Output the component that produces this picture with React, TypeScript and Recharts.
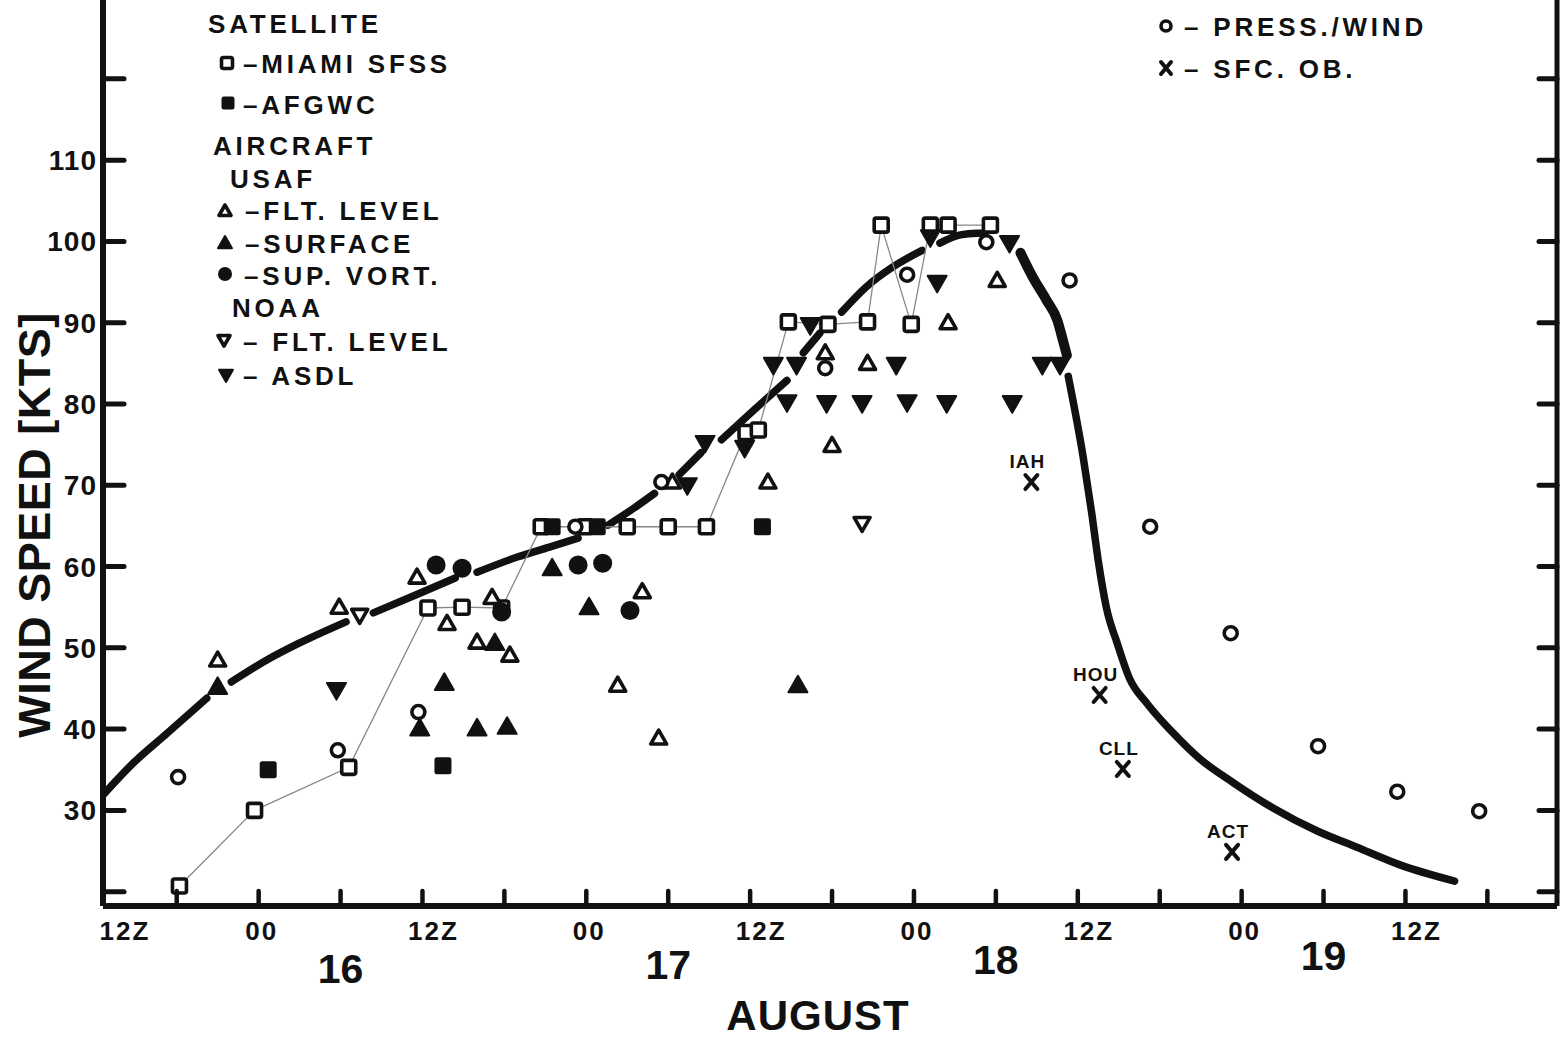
import React from 'react';
import { ComposedChart, Line, Scatter, XAxis, YAxis } from 'recharts';

// x: hours from 00Z 16 August, v: wind speed in knots
type Pt = { h: number; v: number | null };
type Ob = { h: number; v: number; name: string };

const miamiSfss: Pt[] = [
    { h: -5.8, v: 20.7 }, { h: -0.3, v: 30.0 }, { h: 6.6, v: 35.3 }, { h: 12.4, v: 54.9 },
    { h: 14.9, v: 55.0 }, { h: 17.8, v: 54.9 }, { h: 20.7, v: 64.9 }, { h: 23.9, v: 64.9 },
    { h: 27.0, v: 64.9 }, { h: 30.0, v: 64.9 }, { h: 32.8, v: 64.9 }, { h: 35.7, v: 76.5 },
    { h: 36.6, v: 76.8 }, { h: 38.8, v: 90.1 }, { h: 41.7, v: 89.8 }, { h: 44.6, v: 90.1 },
    { h: 45.6, v: 102.0 }, { h: 47.8, v: 89.8 }, { h: 49.2, v: 102.0 }, { h: 50.5, v: 102.0 },
    { h: 53.6, v: 102.0 }
];

const afgwc: Pt[] = [
    { h: 0.7, v: 35.0 }, { h: 13.5, v: 35.5 }, { h: 21.5, v: 64.9 }, { h: 24.8, v: 64.9 }, { h: 36.9, v: 64.9 }
];

const usafFltLevel: Pt[] = [
    { h: -3.0, v: 48.5 }, { h: 5.9, v: 55.0 }, { h: 11.6, v: 58.7 }, { h: 13.8, v: 53.0 },
    { h: 16.0, v: 50.7 }, { h: 17.1, v: 56.2 }, { h: 18.4, v: 49.1 }, { h: 26.3, v: 45.4 },
    { h: 28.1, v: 56.9 }, { h: 29.3, v: 38.9 }, { h: 30.3, v: 70.4 }, { h: 37.3, v: 70.4 },
    { h: 41.5, v: 86.3 }, { h: 42.0, v: 74.9 }, { h: 44.6, v: 85.0 }, { h: 50.5, v: 90.0 },
    { h: 54.1, v: 95.2 }
];

const usafSurface: Pt[] = [
    { h: -3.0, v: 45.2 }, { h: 11.8, v: 40.1 }, { h: 13.6, v: 45.7 }, { h: 16.0, v: 40.1 },
    { h: 18.2, v: 40.3 }, { h: 17.3, v: 50.6 }, { h: 21.5, v: 59.8 }, { h: 24.2, v: 55.0 },
    { h: 39.5, v: 45.4 }
];

const supVort: Pt[] = [
    { h: 13.0, v: 60.2 }, { h: 14.9, v: 59.8 }, { h: 17.8, v: 54.4 },
    { h: 23.4, v: 60.2 }, { h: 25.2, v: 60.4 }, { h: 27.2, v: 54.6 }
];

const noaaFltLevel: Pt[] = [{ h: 7.4, v: 54.0 }, { h: 44.2, v: 65.3 }];

const noaaAsdl: Pt[] = [
    { h: 5.7, v: 44.8 }, { h: 31.4, v: 70.0 }, { h: 32.7, v: 75.2 }, { h: 35.6, v: 74.6 },
    { h: 37.7, v: 84.8 }, { h: 39.4, v: 84.8 }, { h: 38.7, v: 80.2 }, { h: 40.4, v: 89.7 },
    { h: 41.6, v: 80.1 }, { h: 44.2, v: 80.1 }, { h: 46.7, v: 84.8 }, { h: 47.5, v: 80.2 },
    { h: 49.2, v: 100.5 }, { h: 49.7, v: 94.9 }, { h: 50.4, v: 80.1 }, { h: 55.0, v: 99.8 },
    { h: 55.2, v: 80.1 }, { h: 57.4, v: 84.8 }, { h: 58.7, v: 84.8 }
];

const pressWind: Pt[] = [
    { h: -5.9, v: 34.1 }, { h: 5.8, v: 37.4 }, { h: 11.7, v: 42.1 }, { h: 23.2, v: 64.9 },
    { h: 29.5, v: 70.4 }, { h: 41.5, v: 84.4 }, { h: 47.5, v: 95.9 }, { h: 53.3, v: 99.9 },
    { h: 59.4, v: 95.2 }, { h: 65.3, v: 64.9 }, { h: 71.2, v: 51.8 }, { h: 77.6, v: 37.9 },
    { h: 83.4, v: 32.3 }, { h: 89.4, v: 29.9 }
];

const sfcOb: Ob[] = [
    { h: 56.6, v: 70.4, name: 'IAH' }, { h: 61.6, v: 44.2, name: 'HOU' },
    { h: 63.3, v: 35.1, name: 'CLL' }, { h: 71.3, v: 24.9, name: 'ACT' }
];

// best track, broken where it passes markers (null = gap)
const trackRise: Pt[] = [
    { h: -11.4, v: 31.9 }, { h: -9.2, v: 35.8 }, { h: -6.7, v: 39.5 }, { h: -3.8, v: 43.8 },
    { h: -2.9, v: null },
    { h: -2.0, v: 45.8 }, { h: 0.6, v: 48.5 }, { h: 3.0, v: 50.6 }, { h: 6.4, v: 53.2 },
    { h: 7.4, v: null },
    { h: 8.4, v: 54.3 }, { h: 11.5, v: 56.5 }, { h: 14.4, v: 58.6 },
    { h: 15.2, v: null },
    { h: 16.0, v: 59.3 }, { h: 19.0, v: 61.2 }, { h: 21.3, v: 62.4 }, { h: 23.4, v: 63.5 },
    { h: 24.5, v: null },
    { h: 25.6, v: 65.1 }, { h: 27.5, v: 67.2 }, { h: 29.0, v: 69.0 },
    { h: 30.0, v: null },
    { h: 30.8, v: 71.3 }, { h: 32.4, v: 74.0 },
    { h: 33.2, v: null },
    { h: 33.9, v: 75.6 }, { h: 36.3, v: 79.3 }, { h: 38.7, v: 82.9 },
    { h: 39.3, v: null },
    { h: 39.9, v: 86.3 }, { h: 41.1, v: 88.7 },
    { h: 41.9, v: null },
    { h: 42.7, v: 91.3 }, { h: 44.5, v: 94.4 }, { h: 46.4, v: 96.8 }, { h: 48.6, v: 98.9 },
    { h: 49.2, v: null },
    { h: 49.9, v: 99.8 }, { h: 51.4, v: 100.8 }, { h: 52.6, v: 101.0 }, { h: 53.2, v: 101.0 }
];

const trackPeakDrop: Pt[] = [
    { h: 55.8, v: 98.6 }, { h: 56.7, v: 95.6 }, { h: 57.7, v: 92.8 },
    { h: 58.5, v: 90.3 }, { h: 58.9, v: 87.9 }, { h: 59.2, v: 86.0 }
];

const trackDecay: Pt[] = [
    { h: 59.3, v: 83.4 }, { h: 60.4, v: 73.4 }, { h: 61.0, v: 66.8 }, { h: 61.5, v: 60.7 },
    { h: 62.1, v: 54.9 }, { h: 62.9, v: 50.5 }, { h: 63.8, v: 46.2 }, { h: 65.1, v: 43.1 },
    { h: 67.0, v: 39.5 }, { h: 68.9, v: 36.4 }, { h: 71.4, v: 33.4 }, { h: 74.3, v: 30.3 },
    { h: 77.5, v: 27.5 }, { h: 80.4, v: 25.5 }, { h: 83.6, v: 23.3 }, { h: 87.6, v: 21.3 }
];

const xTicks = [-6, 0, 6, 12, 18, 24, 30, 36, 42, 48, 54, 60, 66, 72, 78, 84, 90];
const yTicks = [20, 30, 40, 50, 60, 70, 80, 90, 100, 110, 120];
const yLabelled = [30, 40, 50, 60, 70, 80, 90, 100, 110];

const W = 1562;
const H = 1038;
const INK = '#111';
const FONT = '"Liberation Sans", Arial, Helvetica, sans-serif';

// ---- marker shapes ----
const OpenSquare = ({ cx, cy, s = 14 }: any) => (
    <rect x={cx - s / 2} y={cy - s / 2} width={s} height={s} rx={2} fill="#fff" stroke={INK} strokeWidth={3.6} />
);
const FilledSquare = ({ cx, cy, s = 17 }: any) => (
    <rect x={cx - s / 2} y={cy - s / 2} width={s} height={s} rx={2.5} fill={INK} />
);
const triPath = (cx: number, cy: number, hw: number, up: boolean) => {
    const t = hw * 1.0, b = hw * 0.75;
    return up
        ? `M${cx},${cy - t} L${cx + hw},${cy + b} L${cx - hw},${cy + b} Z`
        : `M${cx},${cy + t} L${cx + hw},${cy - b} L${cx - hw},${cy - b} Z`;
};
const OpenTriUp = ({ cx, cy, hw = 8 }: any) => (
    <path d={triPath(cx, cy, hw, true)} fill="#fff" stroke={INK} strokeWidth={3.6} strokeLinejoin="round" />
);
const FilledTriUp = ({ cx, cy, hw = 9.5 }: any) => (
    <path d={triPath(cx, cy, hw, true)} fill={INK} stroke={INK} strokeWidth={2} strokeLinejoin="round" />
);
const OpenTriDown = ({ cx, cy, hw = 8 }: any) => (
    <path d={triPath(cx, cy, hw, false)} fill="#fff" stroke={INK} strokeWidth={3.6} strokeLinejoin="round" />
);
const FilledTriDown = ({ cx, cy, hw = 9.5 }: any) => (
    <path d={triPath(cx, cy, hw, false)} fill={INK} stroke={INK} strokeWidth={2} strokeLinejoin="round" />
);
const FilledCircle = ({ cx, cy, r = 9.5 }: any) => <circle cx={cx} cy={cy} r={r} fill={INK} />;
const OpenCircle = ({ cx, cy, r = 6.5 }: any) => (
    <circle cx={cx} cy={cy} r={r} fill="#fff" stroke={INK} strokeWidth={3.6} />
);
const Cross = ({ cx, cy, s = 6 }: any) => (
    <path d={`M${cx - s},${cy - s - 1} L${cx + s},${cy + s + 1} M${cx + s},${cy - s - 1} L${cx - s},${cy + s + 1}`}
        stroke={INK} strokeWidth={4} strokeLinecap="round" />
);
const SfcOb = (p: any) => (
    <g>
        <Cross cx={p.cx} cy={p.cy} />
        <text x={p.cx - 4} y={p.cy - 14} textAnchor="middle" fontFamily={FONT} fontWeight="bold"
            fontSize={19} letterSpacing={1} fill={INK}>{p.payload.name}</text>
    </g>
);

// ---- axis ticks ----
const LeftTick = ({ x, y, payload }: any) => (
    <g>
        <line x1={x} x2={x + 21} y1={y} y2={y} stroke={INK} strokeWidth={5} strokeLinecap="round" />
        {yLabelled.includes(payload.value) && (
            <text x={x - 6} y={y + 10} textAnchor="end" fontFamily={FONT} fontWeight="bold" fontSize={28}
                letterSpacing={1} fill={INK}>
                {payload.value}
            </text>
        )}
    </g>
);
const RightTick = ({ x, y }: any) => (
    <line x1={x} x2={x - 18} y1={y} y2={y} stroke={INK} strokeWidth={5} strokeLinecap="round" />
);
const BottomTick = ({ x, y, payload }: any) => {
    const h = payload.value as number;
    const r = ((h % 24) + 24) % 24;
    const label = r === 0 ? '00' : r === 12 ? '12Z' : null;
    const day = r === 6 ? String(16 + Math.floor(h / 24)) : null;
    return (
        <g>
            <line x1={x} x2={x} y1={y} y2={y - 15} stroke={INK} strokeWidth={4.5} strokeLinecap="round" />
            {label && (
                <text x={label === '12Z' ? x + 11 : x + 3} y={y + 34} textAnchor="middle" fontFamily={FONT}
                    fontWeight="bold" fontSize={26} letterSpacing={2} fill={INK}>{label}</text>
            )}
            {day && (
                <text x={x} y={y + 77 - (x - 340) * 0.0132} textAnchor="middle" fontFamily={FONT}
                    fontWeight="bold" fontSize={41} fill={INK}>{day}</text>
            )}
        </g>
    );
};

const legendText = { fontFamily: FONT, fontWeight: 'bold' as const, fontSize: 26, letterSpacing: 3.8, fill: INK };

const Legend = () => (
    <svg width={W} height={H} style={{ position: 'absolute', left: 0, top: 0, pointerEvents: 'none' }}>
        <text x={208} y={33} {...legendText}>SATELLITE</text>
        <OpenSquare cx={227} cy={63} s={11} />
        <text x={243} y={73} {...legendText}>–MIAMI SFSS</text>
        <FilledSquare cx={228} cy={103} s={13} />
        <text x={243} y={114} {...legendText}>–AFGWC</text>
        <text x={213} y={155} {...legendText}>AIRCRAFT</text>
        <text x={230} y={188} {...legendText}>USAF</text>
        <OpenTriUp cx={225} cy={211} hw={6} />
        <text x={245} y={220} {...legendText}>–FLT. LEVEL</text>
        <FilledTriUp cx={225} cy={243} hw={7} />
        <text x={245} y={253} {...legendText}>–SURFACE</text>
        <FilledCircle cx={225} cy={274} r={7} />
        <text x={244} y={285} {...legendText}>–SUP. VORT.</text>
        <text x={232} y={317} {...legendText}>NOAA</text>
        <OpenTriDown cx={224} cy={340} hw={6} />
        <text x={243} y={351} {...legendText}>– FLT. LEVEL</text>
        <FilledTriDown cx={226} cy={375} hw={7} />
        <text x={243} y={385} {...legendText}>– ASDL</text>

        <OpenCircle cx={1166} cy={26} r={5} />
        <text x={1184} y={36} {...legendText}>– PRESS./WIND</text>
        <Cross cx={1166} cy={68} s={5} />
        <text x={1184} y={78} {...legendText}>– SFC. OB.</text>

        <text x={125} y={940} textAnchor="middle" fontFamily={FONT} fontWeight="bold" fontSize={26}
            letterSpacing={2} fill={INK}>12Z</text>
        <text x={818} y={1030} textAnchor="middle" fontFamily={FONT} fontWeight="bold" fontSize={42}
            letterSpacing={1} fill={INK}>AUGUST</text>
        <text x={50} y={525} transform="rotate(-90 50 525)" textAnchor="middle" fontFamily={FONT}
            fontWeight="bold" fontSize={45} letterSpacing={0.5} fill={INK}>WIND SPEED [KTS]</text>
    </svg>
);

export default function App() {
    return (
        <div style={{ position: 'absolute', left: 0, top: 0, width: W, height: H, background: '#fff' }}>
            <ComposedChart width={W} height={H} margin={{ top: 0, right: 0, bottom: 0, left: 3 }}>
                <XAxis type="number" dataKey="h" domain={[-11.4, 95.1]} ticks={xTicks} allowDataOverflow
                    height={132} tickSize={0} tickMargin={0} tickLine={false} interval={0}
                    axisLine={{ stroke: INK, strokeWidth: 6 }} tick={<BottomTick />} />
                <YAxis type="number" dataKey="v" domain={[18.24, 129.7]} ticks={yTicks} allowDataOverflow
                    width={100} tickSize={0} tickMargin={0} tickLine={false} interval={0}
                    axisLine={{ stroke: INK, strokeWidth: 6 }} tick={<LeftTick />} />
                <YAxis yAxisId="r" orientation="right" type="number" dataKey="v" domain={[18.24, 129.7]}
                    ticks={yTicks} allowDataOverflow width={5} tickSize={0} tickMargin={0} tickLine={false}
                    interval={0} axisLine={{ stroke: INK, strokeWidth: 5 }} tick={<RightTick />} />

                <Line data={trackRise} dataKey="v" type="monotone" stroke={INK} strokeWidth={7.5}
                    strokeLinecap="round" dot={false} activeDot={false} connectNulls={false} isAnimationActive={false} />
                <Line data={trackPeakDrop} dataKey="v" type="monotone" stroke={INK} strokeWidth={10}
                    strokeLinecap="round" dot={false} activeDot={false} isAnimationActive={false} />
                <Line data={trackDecay} dataKey="v" type="monotone" stroke={INK} strokeWidth={7.5}
                    strokeLinecap="round" dot={false} activeDot={false} isAnimationActive={false} />

                <Scatter data={miamiSfss} line={{ stroke: '#888', strokeWidth: 1.3 }} lineType="joint"
                    shape={(p: any) => <OpenSquare cx={p.cx} cy={p.cy} />} isAnimationActive={false} />
                <Scatter data={afgwc} shape={(p: any) => <FilledSquare cx={p.cx} cy={p.cy} />} isAnimationActive={false} />
                <Scatter data={usafFltLevel} shape={(p: any) => <OpenTriUp cx={p.cx} cy={p.cy} />} isAnimationActive={false} />
                <Scatter data={usafSurface} shape={(p: any) => <FilledTriUp cx={p.cx} cy={p.cy} />} isAnimationActive={false} />
                <Scatter data={supVort} shape={(p: any) => <FilledCircle cx={p.cx} cy={p.cy} />} isAnimationActive={false} />
                <Scatter data={noaaFltLevel} shape={(p: any) => <OpenTriDown cx={p.cx} cy={p.cy} />} isAnimationActive={false} />
                <Scatter data={noaaAsdl} shape={(p: any) => <FilledTriDown cx={p.cx} cy={p.cy} />} isAnimationActive={false} />
                <Scatter data={pressWind} shape={(p: any) => <OpenCircle cx={p.cx} cy={p.cy} />} isAnimationActive={false} />
                <Scatter data={sfcOb} shape={(p: any) => <SfcOb {...p} />} isAnimationActive={false} />
            </ComposedChart>
            <Legend />
        </div>
    );
}
